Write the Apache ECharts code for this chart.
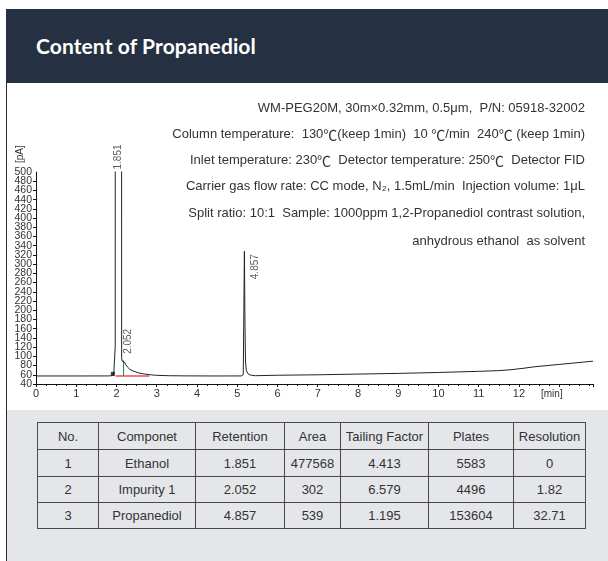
<!DOCTYPE html>
<html>
<head>
<meta charset="utf-8">
<script src="https://cdn.jsdelivr.net/npm/echarts@6/dist/echarts.min.js"></script>
<style>
html,body{margin:0;padding:0;background:#fff;}
#page{position:relative;width:608px;height:561px;overflow:hidden;background:#fff;font-family:"Liberation Sans",Arial,sans-serif;}
#header{position:absolute;left:6px;top:9px;width:602px;height:74px;background:#253142;}
#title{position:absolute;left:30px;top:0;height:74px;line-height:74px;color:#fff;font-family:Lato,"Noto Sans",sans-serif;font-weight:700;font-size:21px;letter-spacing:0.1px;}
#leftline{position:absolute;left:6px;top:83px;width:1px;height:478px;background:#2b2b2b;}
#gray{position:absolute;left:7px;top:410px;width:601px;height:151px;background:#e4e6ea;}
#chart{position:absolute;left:7px;top:83px;width:601px;height:327px;}
#tbl{position:absolute;left:37px;top:422px;border-collapse:collapse;font-family:"Liberation Sans",Arial,sans-serif;font-size:13px;color:#333;table-layout:fixed;}
#tbl td{border:1px solid #4a4a4a;text-align:center;padding:0;}
</style>
</head>
<body>
<div id="page">
  <div id="header"><div id="title">Content of Propanediol</div></div>
  <div id="leftline"></div>
  <div id="gray"></div>
  <div id="chart"></div>
  <table id="tbl"></table>
</div>
<script>
// ---- chromatogram data (axis time in min, signal in pA) ----
const timeMin = [0, 1.0, 1.8, 1.88, 1.93, 1.955, 1.968, 1.975, 2.05, 2.12, 2.128, 2.14, 2.16, 2.185, 2.205, 2.23, 2.27, 2.33, 2.42, 2.55, 2.7, 2.85, 3.0, 3.3, 3.7, 4.5, 5.1, 5.15, 5.165, 5.178, 5.19, 5.205, 5.225, 5.26, 5.32, 5.45, 6.0, 7.0, 8.0, 9.0, 10.0, 11.0, 11.5, 11.8, 12.1, 12.4, 12.7, 13.0, 13.3, 13.6, 13.84];
const signalPA = [57.4, 57.4, 57.5, 58, 59.5, 63, 120, 3000, 9000, 3000, 96, 90, 91, 94, 87, 82, 77, 72, 68, 64, 61.5, 60, 58.8, 58, 57.6, 57.4, 57.5, 60, 200, 328, 190, 90, 70, 63, 59.5, 58, 59, 60, 61.5, 63, 65, 67.5, 69, 71, 74, 77.5, 80, 82.5, 85, 87.5, 89.5];

// integration marks
const integrationBaselineX = [1.975, 2.815];
const integrationBaselineY = [57.5, 57.5];
const dropLineX = [2.175, 2.175];
const dropLineY = [57.5, 91];
const startMarkerX = [1.91];
const startMarkerY = [62];

// peak annotations
const peakLabels = ['1.851', '2.052', '4.857'];
const peakLabelX = [2.037, 2.286, 5.44];
const peakLabelY = [500, 100, 262];

// axis ranges
const xMin = 0, xMax = 13.84, xStep = 1, xLastLabel = 12;
const yMin = 40, yMax = 500, yStep = 20;

// method conditions text ({c|...} marks the degree-Celsius glyph)
const conditionLines = [
  'WM-PEG20M, 30m×0.32mm, 0.5μm,  P/N: 05918-32002',
  'Column temperature:  130{c|℃}(keep 1min)  10 {c|℃}/min  240{c|℃} (keep 1min)',
  'Inlet temperature: 230{c|℃}  Detector temperature: 250{c|℃}  Detector FID',
  'Carrier gas flow rate: CC mode, N₂, 1.5mL/min  Injection volume: 1μL',
  'Split ratio: 10:1  Sample: 1000ppm 1,2-Propanediol contrast solution,',
  'anhydrous ethanol  as solvent'
];
const conditionLineY = [25.3, 51.3, 77.7, 103.7, 130.3, 158.7];

// results table
const tableHeader = ['No.', 'Componet', 'Retention', 'Area', 'Tailing Factor', 'Plates', 'Resolution'];
const colNo = ['1', '2', '3'];
const colComponent = ['Ethanol', 'Impurity 1', 'Propanediol'];
const colRetention = ['1.851', '2.052', '4.857'];
const colArea = ['477568', '302', '539'];
const colTailing = ['4.413', '6.579', '1.195'];
const colPlates = ['5583', '4496', '153604'];
const colResolution = ['0', '1.82', '32.71'];

// ---- table ----
(function buildTable(){
  const widths = [61, 97, 89, 56, 88, 85, 72];
  const heights = [27, 27, 26, 26];
  const tbl = document.getElementById('tbl');
  let html = '<colgroup>' + widths.map(w => '<col style="width:' + w + 'px">').join('') + '</colgroup>';
  const rows = [tableHeader];
  for (let i = 0; i < colNo.length; i++) {
    rows.push([colNo[i], colComponent[i], colRetention[i], colArea[i], colTailing[i], colPlates[i], colResolution[i]]);
  }
  rows.forEach((r, i) => {
    html += '<tr style="height:' + heights[i] + 'px">' + r.map(c => '<td>' + c + '</td>').join('') + '</tr>';
  });
  tbl.innerHTML = html;
})();

// ---- chart ----
const FONT = '"Liberation Sans", Arial, sans-serif';
const CJK = '"Noto Sans CJK SC", sans-serif';
const chart = echarts.init(document.getElementById('chart'), null, {renderer: 'canvas'});
const trace = timeMin.map((t, i) => [t, signalPA[i]]);

// y labels split over two coincident axes so that none is dropped by overlap handling
const yLabelStyle = {fontSize: 10.5, color: '#333', margin: 4, fontFamily: FONT, lineHeight: 9};
const isEvenStep = v => Math.round((v - yMin) / yStep) % 2 === 0;
const yAxisBase = {
  type: 'value', min: yMin, max: yMax, interval: yStep, position: 'left', offset: 0,
  splitLine: {show: false}
};

const option = {
  animation: false,
  backgroundColor: 'transparent',
  textStyle: {fontFamily: FONT},
  grid: {left: 29, right: 15, top: 89, bottom: 26, containLabel: false},
  xAxis: {
    type: 'value', min: xMin, max: xMax, interval: xStep,
    axisLine: {show: true, lineStyle: {color: '#111', width: 1}},
    axisTick: {show: true, length: 3, lineStyle: {color: '#111'}},
    minorTick: {show: true, splitNumber: 4, length: 2, lineStyle: {color: '#111'}},
    splitLine: {show: false},
    axisLabel: {
      fontSize: 11, color: '#333', margin: 4, fontFamily: FONT,
      formatter: v => (Number.isInteger(v) && v <= xLastLabel) ? String(v) : ''
    },
    name: '[min]', nameLocation: 'end', nameGap: -52,
    nameTextStyle: {fontSize: 10, color: '#333', verticalAlign: 'top', align: 'left', padding: [5, 0, 0, 0], fontFamily: FONT}
  },
  yAxis: [
    Object.assign({}, yAxisBase, {
      axisLine: {show: true, lineStyle: {color: '#111', width: 1}},
      axisTick: {show: true, length: 3, lineStyle: {color: '#111'}},
      axisLabel: Object.assign({}, yLabelStyle, {
        showMinLabel: true, showMaxLabel: false,
        formatter: v => isEvenStep(v) ? String(v) : ''
      })
    }),
    Object.assign({}, yAxisBase, {
      axisLine: {show: false},
      axisTick: {show: false},
      axisLabel: Object.assign({}, yLabelStyle, {
        showMinLabel: false, showMaxLabel: true,
        formatter: v => isEvenStep(v) ? '' : String(v)
      })
    })
  ],
  graphic: [
    {type: 'text', x: 13, y: 80, rotation: Math.PI / 2,
     style: {text: '[pA]', fill: '#333', fontSize: 10, fontFamily: FONT, align: 'left', verticalAlign: 'middle'}}
  ].concat(conditionLines.map((t, i) => ({
    type: 'text', x: 578, y: conditionLineY[i],
    style: {text: t, fill: '#333', fontSize: 13, fontFamily: FONT, align: 'right', verticalAlign: 'middle',
            rich: {c: {fontSize: 14, fontFamily: CJK, fill: '#333'}}}
  }))),
  series: [
    {
      type: 'line', name: 'baseline', z: 1, yAxisIndex: 0,
      data: integrationBaselineX.map((x, i) => [x, integrationBaselineY[i]]),
      symbol: 'none', lineStyle: {color: '#f07a7a', width: 2}
    },
    {
      type: 'line', name: 'drop', z: 1, yAxisIndex: 0,
      data: dropLineX.map((x, i) => [x, dropLineY[i]]),
      symbol: 'none', lineStyle: {color: '#1f8a3a', width: 1}
    },
    {
      type: 'line', name: 'signal', z: 3, yAxisIndex: 0,
      data: trace, symbol: 'none', clip: true, sampling: null,
      lineStyle: {color: '#222', width: 1}
    },
    {
      type: 'scatter', name: 'start', z: 4, yAxisIndex: 0,
      data: startMarkerX.map((x, i) => [x, startMarkerY[i]]),
      symbol: 'rect', symbolSize: 4, itemStyle: {color: '#111'}
    },
    {
      type: 'scatter', name: 'peakLabels', z: 5, clip: false, yAxisIndex: 0,
      data: peakLabelX.map((x, i) => [x, peakLabelY[i], peakLabels[i]]),
      symbolSize: 1, itemStyle: {color: 'transparent'},
      label: {
        show: true, position: 'top', distance: 2, rotate: 90,
        align: 'left', verticalAlign: 'middle',
        fontSize: 10, color: '#333', fontFamily: FONT,
        formatter: p => p.data[2]
      }
    }
  ]
};
chart.setOption(option);
</script>
</body>
</html>
